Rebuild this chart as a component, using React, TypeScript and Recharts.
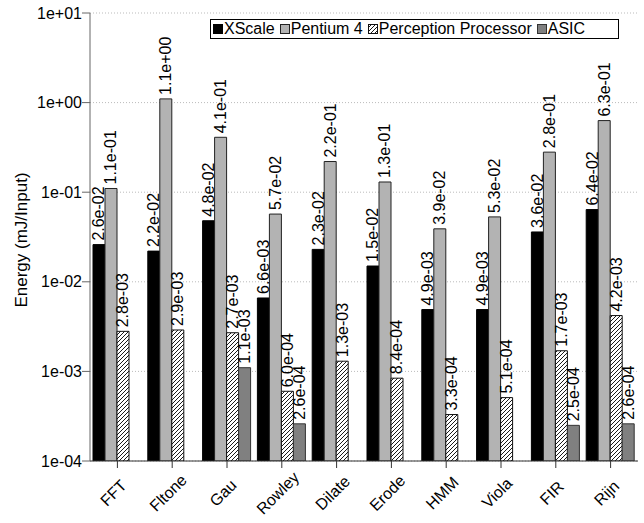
import React from 'react';
import {
  BarChart,
  Bar,
  XAxis,
  YAxis,
  CartesianGrid,
  LabelList,
  Label,
} from 'recharts';

const categories = ['FFT', 'Fltone', 'Gau', 'Rowley', 'Dilate', 'Erode', 'HMM', 'Viola', 'FIR', 'Rijn'];
const xscale = [2.6e-2, 2.2e-2, 4.8e-2, 6.6e-3, 2.3e-2, 1.5e-2, 4.9e-3, 4.9e-3, 3.6e-2, 6.4e-2];
const pentium4 = [1.1e-1, 1.1e0, 4.1e-1, 5.7e-2, 2.2e-1, 1.3e-1, 3.9e-2, 5.3e-2, 2.8e-1, 6.3e-1];
const perception = [2.8e-3, 2.9e-3, 2.7e-3, 6.0e-4, 1.3e-3, 8.4e-4, 3.3e-4, 5.1e-4, 1.7e-3, 4.2e-3];
const asic = [null, null, 1.1e-3, 2.6e-4, null, null, null, null, 2.5e-4, 2.6e-4];
const yTicks = [1e-4, 1e-3, 1e-2, 1e-1, 1e0, 1e1];

const FONT = '"Liberation Sans", Arial, Helvetica, sans-serif';

const chartData = categories.map((name, i) => ({
  name,
  xscale: xscale[i],
  pentium4: pentium4[i],
  perception: perception[i],
  asic: asic[i],
}));

const series = [
  { key: 'xscale', name: 'XScale', fill: '#000000', stroke: '#000000' },
  { key: 'pentium4', name: 'Pentium 4', fill: '#b3b3b3', stroke: '#222222' },
  { key: 'perception', name: 'Perception Processor', fill: 'url(#hatch)', stroke: '#111111' },
  { key: 'asic', name: 'ASIC', fill: '#808080', stroke: '#333333' },
];

// 2.6e-2 -> 2.6e-02
const fmtExp = (v: number, digits: number) =>
  v.toExponential(digits).replace(/e([+-])(\d)$/, 'e$10$2');

const BarValueLabel = (props: any) => {
  const { x, y, width, value } = props;
  if (value == null) return null;
  const cx = x + width / 2;
  const cy = y - 4;
  return (
    <text
      x={cx}
      y={cy}
      transform={`rotate(-90 ${cx} ${cy})`}
      textAnchor="start"
      dominantBaseline="central"
      fontFamily={FONT}
      fontSize={16}
      fill="#000"
    >
      {fmtExp(value, 1)}
    </text>
  );
};

const XTick = (props: any) => {
  const { x, y, payload } = props;
  const cx = x - 4;
  const cy = y + 25;
  return (
    <text
      x={cx}
      y={cy}
      transform={`rotate(-45 ${cx} ${cy})`}
      textAnchor="middle"
      dominantBaseline="central"
      fontFamily={FONT}
      fontSize={16}
      fill="#000"
    >
      {payload.value}
    </text>
  );
};

const LegendBox = () => (
  <div
    style={{
      position: 'absolute',
      left: 210,
      top: 19,
      width: 405,
      height: 18,
      border: '1px solid #000',
      background: '#fff',
      display: 'flex',
      alignItems: 'center',
      fontFamily: FONT,
      fontSize: 16,
      lineHeight: '18px',
      paddingLeft: 2,
      boxSizing: 'content-box',
    }}
  >
    {series.map((s) => (
      <div key={s.key} style={{ display: 'flex', alignItems: 'center', marginRight: 5 }}>
        <svg width={10} height={10} style={{ marginRight: 1 }}>
          <rect x={0.5} y={0.5} width={9} height={9} fill={s.fill} stroke={s.stroke} />
        </svg>
        <span>{s.name}</span>
      </div>
    ))}
  </div>
);

export default function App() {
  return (
    <div style={{ position: 'absolute', left: 0, top: 0, width: 644, height: 523, background: '#fff' }}>
      <BarChart
        width={644}
        height={523}
        data={chartData}
        margin={{ top: 13, right: 6, left: 0, bottom: 0 }}
        barCategoryGap={3}
        barGap={0}
      >
        <defs>
          <pattern id="hatch" patternUnits="userSpaceOnUse" width={4} height={4}>
            <rect width={4} height={4} fill="#fff" />
            <path d="M-1,1 l2,-2 M0,4 l4,-4 M3,5 l2,-2" stroke="#000" strokeWidth={0.9} />
          </pattern>
        </defs>
        <CartesianGrid vertical={false} stroke="#bbbbbb" strokeDasharray="1 2" />
        <XAxis
          dataKey="name"
          interval={0}
          height={62}
          tickSize={7}
          tickMargin={0}
          axisLine={{ stroke: '#333' }}
          tickLine={{ stroke: '#333' }}
          tick={<XTick />}
        />
        <YAxis
          scale="log"
          domain={[1e-4, 10]}
          allowDataOverflow
          ticks={yTicks}
          interval={0}
          width={90}
          tickSize={8}
          tickMargin={0}
          axisLine={{ stroke: '#666' }}
          tickLine={{ stroke: '#666' }}
          tickFormatter={(v: number) => fmtExp(v, 0)}
          tick={{ fill: '#000', fontSize: 16, fontFamily: FONT }}
        >
          <Label
            content={(p: any) => {
              const vb = p.viewBox || {};
              const cx = 21;
              const cy = (vb.y ?? 13) + (vb.height ?? 448) / 2 + 3;
              return (
                <text
                  x={cx}
                  y={cy}
                  transform={`rotate(-90 ${cx} ${cy})`}
                  textAnchor="middle"
                  dominantBaseline="central"
                  fontFamily={FONT}
                  fontSize={17}
                  fill="#000"
                >
                  Energy (mJ/Input)
                </text>
              );
            }}
          />
        </YAxis>
        {series.map((s) => (
          <Bar
            key={s.key}
            dataKey={s.key}
            name={s.name}
            fill={s.fill}
            stroke={s.stroke}
            strokeWidth={1}
            isAnimationActive={false}
          >
            <LabelList dataKey={s.key} content={<BarValueLabel />} />
          </Bar>
        ))}
      </BarChart>
      <LegendBox />
    </div>
  );
}
